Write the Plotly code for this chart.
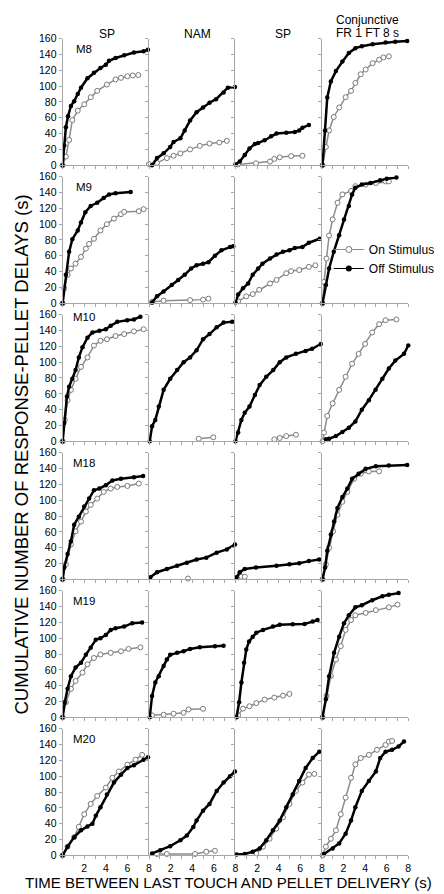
import plotly.graph_objects as go

W, H = 444, 894

SUBJECTS = ["M8", "M9", "M10", "M18", "M19", "M20"]
PHASES = ["SP", "NAM", "SP", "Conjunctive"]
PHASE_SUB = ["", "", "", "FR 1 FT 8 s"]
Y_TICKS = [0, 20, 40, 60, 80, 100, 120, 140, 160]
X_TICKS = [0, 1, 2, 3, 4, 5, 6, 7, 8]
X_TICKTEXT = ["", "", "2", "", "4", "", "6", "", "8"]

# ---- M8 ----
M8_SP1_ON_X = [0, 0.3, 0.6, 0.9, 1.4, 2.0, 2.6, 3.2, 4.1, 4.9, 5.4, 6.0, 6.5, 7.0]
M8_SP1_ON_Y = [0, 11, 32, 57, 69, 77, 86, 94, 102, 108.5, 110.5, 112.5, 113.5, 114]
M8_SP1_OFF_X = [0, 0.15, 0.3, 0.5, 0.77, 1.07, 1.4, 1.7, 2.3, 2.9, 3.5, 4.0, 4.3, 4.9, 5.7, 6.6, 7.5, 7.9]
M8_SP1_OFF_Y = [0, 25, 48, 62, 75, 81, 90, 98, 110, 117, 123, 127, 132, 135.5, 139, 142.5, 144, 146]
M8_NAM_ON_X = [0, 0.74, 1.65, 2.27, 2.9, 3.8, 4.7, 5.6, 6.5, 7.2]
M8_NAM_ON_Y = [1.5, 3, 9, 12, 15, 20, 24.5, 27.4, 28.7, 30.8]
M8_NAM_OFF_X = [0.28, 0.74, 1.35, 1.96, 2.27, 2.9, 3.3, 3.8, 4.4, 5.0, 5.6, 6.2, 6.9, 7.3, 7.95]
M8_NAM_OFF_Y = [0, 9, 15, 23, 29.5, 34, 44, 56.5, 67, 73, 79, 83.5, 92, 98, 99]
M8_SP2_ON_X = [0.25, 1.9, 3.2, 3.6, 4.1, 5.15, 6.2]
M8_SP2_ON_Y = [1, 2.5, 4.6, 8, 10, 11.6, 12]
M8_SP2_OFF_X = [0, 0.4, 0.86, 1.3, 1.8, 2.1, 2.7, 3.3, 3.8, 4.7, 5.5, 5.9, 6.2, 6.8]
M8_SP2_OFF_Y = [1, 4.6, 13, 21, 27, 28, 31.6, 36.6, 40, 41, 42, 44, 47.4, 51]
M8_CONJ_ON_X = [0.06, 0.37, 0.67, 1.1, 1.6, 2.2, 2.7, 3.1, 3.6, 4.05, 4.7, 5.3, 5.7, 6.2]
M8_CONJ_ON_Y = [0, 23, 44, 61, 73, 86, 94, 104, 115, 121, 129, 133.4, 136.3, 137.6]
M8_CONJ_OFF_X = [0.06, 0.3, 0.5, 0.83, 1.3, 1.9, 2.5, 3.1, 3.7, 4.7, 5.9, 6.8, 7.9]
M8_CONJ_OFF_Y = [0, 44, 85.6, 106, 119, 131, 142, 148, 150.5, 153, 155, 156, 157]

# ---- M9 ----
M9_SP1_ON_X = [0, 0.15, 0.46, 0.77, 1.2, 1.7, 2.15, 2.45, 2.9, 3.5, 4.1, 4.75, 5.4, 5.7, 7.05, 7.5]
M9_SP1_ON_Y = [0, 19, 36, 44, 50, 58.6, 69, 75, 81.5, 92, 100, 107, 112.6, 115.5, 116.4, 119]
M9_SP1_OFF_X = [0, 0.3, 0.6, 0.9, 1.4, 1.7, 2.1, 2.6, 3.2, 3.8, 4.3, 4.9, 6.3]
M9_SP1_OFF_Y = [0, 36, 65, 81, 92, 102, 115, 123, 127, 133, 137.6, 139, 140.5]
M9_NAM_ON_X = [0.28, 1.35, 3.8, 5.0, 5.5]
M9_NAM_ON_Y = [1.7, 3.3, 4, 4.6, 5.8]
M9_NAM_OFF_X = [0.28, 0.74, 1.35, 2.1, 2.7, 3.3, 3.9, 4.4, 5.0, 5.5, 6.1, 6.7, 7.5, 7.8]
M9_NAM_OFF_Y = [1, 9, 15, 23, 29.5, 36, 44, 48, 50, 52, 60, 67, 71, 72]
M9_SP2_ON_X = [0.25, 1.0, 1.6, 2.2, 3.2, 3.8, 4.7, 5.15, 5.9, 6.8, 7.4]
M9_SP2_ON_Y = [2.5, 8.7, 11.6, 17, 25, 29.5, 38, 40.7, 42, 46, 48]
M9_SP2_OFF_X = [0, 0.25, 0.7, 1.17, 1.6, 2.1, 2.5, 3.2, 3.8, 4.4, 5.0, 5.5, 6.2, 6.8, 7.8]
M9_SP2_OFF_Y = [1, 11, 19, 25, 36, 44, 50, 56.5, 61.5, 65, 67, 70, 71, 76.5, 81.5]
M9_CONJ_ON_X = [0.06, 0.2, 0.43, 0.67, 1.0, 1.45, 1.9, 2.7, 3.1, 4.05, 5.0, 5.9, 6.2]
M9_CONJ_ON_Y = [0, 27, 56.5, 85.6, 106, 127, 137.6, 142, 148, 150, 152, 154, 154]
M9_CONJ_OFF_X = [0.06, 0.37, 0.67, 1.1, 1.6, 2.05, 2.5, 2.8, 3.1, 3.7, 4.5, 5.4, 6.0, 6.9]
M9_CONJ_OFF_Y = [0, 23, 44, 65, 86, 106, 123, 137.6, 146, 150, 152, 155.4, 157.5, 159]

# ---- M10 ----
M10_SP1_ON_X = [0, 0.2, 0.46, 0.77, 1.2, 1.7, 2.3, 2.9, 3.5, 4.1, 4.9, 5.7, 6.6, 7.5]
M10_SP1_ON_Y = [0, 27, 52, 65, 79, 94, 106, 121, 127, 129, 133, 135.5, 139, 141.7]
M10_SP1_OFF_X = [0, 0.15, 0.4, 0.6, 0.9, 1.2, 1.5, 1.84, 2.3, 2.76, 3.4, 4.0, 4.45, 5.06, 5.98, 6.6, 7.2]
M10_SP1_OFF_Y = [0, 23, 56.5, 69, 79, 90, 106, 119, 131, 137.6, 139.6, 141.7, 146, 151, 153, 154, 157.5]
M10_NAM_ON_X = [4.6, 5.95]
M10_NAM_ON_Y = [3.3, 5]
M10_NAM_OFF_X = [0.06, 0.28, 0.58, 0.9, 1.35, 1.96, 2.6, 3.2, 3.8, 4.4, 5.0, 5.6, 6.26, 6.9, 7.7]
M10_NAM_OFF_Y = [0, 19, 27, 44, 65, 79, 90, 100, 106, 115, 129, 135.5, 144, 150, 151]
M10_SP2_ON_X = [3.6, 4.1, 4.7, 5.6]
M10_SP2_ON_Y = [2.5, 4.2, 6.6, 8.3]
M10_SP2_OFF_X = [0, 0.25, 0.55, 0.86, 1.3, 1.8, 2.24, 2.85, 3.5, 4.1, 4.7, 5.6, 6.5, 7.1, 7.9]
M10_SP2_OFF_Y = [0, 11, 27, 36, 44, 58.6, 71, 81.5, 90, 100, 106, 110.5, 114, 117, 123]
M10_CONJ_ON_X = [0.06, 0.2, 0.5, 1.0, 1.6, 2.2, 2.8, 3.4, 4.0, 4.66, 5.3, 5.9, 6.9]
M10_CONJ_ON_Y = [0, 11, 32, 48, 65, 81.5, 98, 110.5, 123, 137.6, 148, 153, 154]
M10_CONJ_OFF_X = [0.37, 0.67, 1.3, 1.9, 2.5, 3.1, 3.7, 4.35, 4.97, 5.6, 6.2, 6.8, 7.6, 8.0]
M10_CONJ_OFF_Y = [2.5, 3.3, 6.6, 11.6, 17, 25, 40, 52, 65, 79, 92, 102, 110.5, 121]

# ---- M18 ----
M18_SP1_ON_X = [0, 0.3, 0.77, 1.2, 1.7, 2.15, 2.6, 3.2, 3.8, 4.45, 5.06, 6.0, 7.05]
M18_SP1_ON_Y = [0, 19, 44, 60.7, 73, 85.6, 94, 102, 110.5, 114.7, 116.8, 118, 121]
M18_SP1_OFF_X = [0, 0.15, 0.46, 0.77, 1.07, 1.5, 2.0, 2.45, 2.9, 3.4, 4.0, 4.6, 5.4, 6.6, 7.45]
M18_SP1_OFF_Y = [0, 15, 32, 48, 69, 79, 92, 102, 112.6, 114.7, 119, 125, 127, 129, 130.5]
M18_NAM_ON_X = [3.6]
M18_NAM_ON_Y = [1]
M18_NAM_OFF_X = [0.12, 0.74, 1.65, 2.6, 3.5, 4.4, 5.3, 6.26, 7.2, 7.95]
M18_NAM_OFF_Y = [2.5, 9, 13, 17, 21, 25, 27.4, 33.7, 37.8, 44]
M18_SP2_ON_X = [0.25, 0.55, 0.86]
M18_SP2_ON_Y = [2.5, 3.3, 3.3]
M18_SP2_OFF_X = [0.1, 0.4, 0.86, 1.9, 3.8, 5.0, 5.9, 6.8, 7.75]
M18_SP2_OFF_Y = [2.5, 9, 13, 15, 17, 19, 20.4, 23, 25]
M18_CONJ_ON_X = [0.06, 0.37, 0.67, 1.04, 1.44, 1.9, 2.36, 2.98, 3.6, 4.35, 5.3]
M18_CONJ_ON_Y = [0, 19, 40, 60.7, 81.5, 98, 110.5, 127, 133.4, 136.3, 136.5]
M18_CONJ_OFF_X = [0.06, 0.3, 0.5, 0.83, 1.13, 1.44, 1.9, 2.36, 2.8, 3.4, 4.05, 5.0, 6.2, 7.9]
M18_CONJ_OFF_Y = [0, 15, 36, 56.5, 73, 90, 104, 114.7, 127, 133.4, 139.6, 143, 143.8, 144.6]

# ---- M19 ----
M19_SP1_ON_X = [0, 0.3, 0.77, 1.2, 1.84, 2.3, 2.9, 3.5, 4.45, 5.4, 6.1, 7.2]
M19_SP1_ON_Y = [0, 19, 36, 46, 56.5, 67, 75, 79.4, 81.5, 83.5, 86.5, 88.5]
M19_SP1_OFF_X = [0, 0.2, 0.46, 0.77, 1.2, 1.7, 2.15, 2.6, 3.07, 3.5, 4.0, 4.45, 4.9, 5.7, 6.44, 7.36]
M19_SP1_OFF_Y = [0, 19, 36, 52, 63, 69, 79, 88, 98, 100, 104, 110.5, 112.6, 114.7, 119, 120]
M19_NAM_ON_X = [0.28, 1.35, 2.27, 3.2, 3.65, 5.0]
M19_NAM_ON_Y = [2.5, 3.3, 4.6, 5.8, 10, 10.8]
M19_NAM_OFF_X = [0.06, 0.28, 0.58, 0.9, 1.35, 1.65, 1.96, 2.6, 3.2, 3.8, 4.7, 6.1, 6.9]
M19_NAM_OFF_Y = [0, 27, 44, 52, 65, 73, 79, 81.5, 83.5, 86.5, 88.5, 90, 90.6]
M19_SP2_ON_X = [0.25, 0.7, 1.3, 1.93, 2.7, 3.6, 4.4, 5.0]
M19_SP2_ON_Y = [2.5, 11, 14, 18, 22.4, 25, 27.4, 29.5]
M19_SP2_OFF_X = [0.1, 0.34, 0.55, 0.8, 1.0, 1.26, 1.6, 1.93, 2.55, 3.47, 4.1, 5.3, 6.4, 7.15, 7.6]
M19_SP2_OFF_Y = [0, 19, 44, 69, 85.6, 96, 102, 107, 110.5, 114.7, 117, 117.6, 118, 121, 123]
M19_CONJ_ON_X = [0.06, 0.43, 0.83, 1.3, 1.75, 2.2, 2.7, 3.1, 4.05, 5.0, 6.2, 7.0]
M19_CONJ_ON_Y = [0, 27, 52, 73, 90, 110.5, 123, 129, 132, 135.5, 139, 142.5]
M19_CONJ_OFF_X = [0.06, 0.37, 0.67, 1.13, 1.6, 2.05, 2.5, 3.1, 3.7, 4.66, 5.6, 6.2, 7.1]
M19_CONJ_OFF_Y = [0, 23, 52, 81.5, 102, 119, 129, 139, 141.7, 148, 153, 155, 157]

# ---- M20 ----
M20_SP1_ON_X = [0, 0.46, 1.07, 1.5, 2.0, 2.6, 3.2, 4.0, 4.6, 5.2, 6.0, 6.75, 7.36]
M20_SP1_ON_Y = [0, 11, 23, 36, 52, 65, 75, 85.6, 98, 106, 114.7, 121, 127]
M20_SP1_OFF_X = [0, 0.46, 1.07, 1.7, 2.3, 2.76, 3.07, 3.5, 4.1, 4.75, 5.4, 6.0, 6.6, 7.5, 7.9]
M20_SP1_OFF_Y = [0, 11, 23, 31.6, 36.6, 40, 50, 60.7, 77, 92, 102, 110.5, 114, 121, 124]
M20_NAM_ON_X = [0.74, 1.65, 4.26, 5.3, 6.1]
M20_NAM_ON_Y = [1.7, 1.7, 1.7, 4.6, 5.8]
M20_NAM_OFF_X = [0.28, 1.04, 1.96, 2.9, 3.5, 4.1, 4.4, 5.0, 5.6, 6.26, 6.9, 7.5, 7.95]
M20_NAM_OFF_Y = [2.5, 6.6, 11.6, 19, 25, 36, 44, 56.5, 65, 81.5, 92, 100, 106]
M20_SP2_ON_X = [1.93, 2.55, 3.16, 3.77, 4.4, 5.0, 5.6, 6.2, 6.8, 7.3]
M20_SP2_ON_Y = [2.5, 11, 21, 33.7, 48, 65, 81.5, 92, 102, 103]
M20_SP2_OFF_X = [0.1, 0.86, 1.6, 2.24, 2.85, 3.47, 4.1, 4.7, 5.3, 5.9, 6.5, 7.15, 7.76]
M20_SP2_OFF_Y = [1, 1.7, 4.6, 8.7, 19, 31.6, 44, 60.7, 77, 94, 110.5, 123, 131]
M20_CONJ_ON_X = [0.06, 0.37, 0.83, 1.3, 1.75, 2.2, 2.7, 3.1, 3.6, 4.35, 5.1, 5.9, 6.2, 6.5]
M20_CONJ_ON_Y = [0, 11, 21, 31.6, 52, 73, 98, 115, 123, 127, 133.4, 139.6, 143.8, 144.6]
M20_CONJ_OFF_X = [0.2, 1.0, 1.6, 2.2, 2.7, 3.1, 3.7, 4.35, 5.0, 5.4, 5.9, 6.5, 7.1, 7.6]
M20_CONJ_OFF_Y = [1.7, 8.7, 15, 27.4, 44, 60.7, 81.5, 94, 106, 123, 131, 133.4, 137.6, 143.8]

CURVES = [
    [(M8_SP1_ON_X, M8_SP1_ON_Y, M8_SP1_OFF_X, M8_SP1_OFF_Y),
     (M8_NAM_ON_X, M8_NAM_ON_Y, M8_NAM_OFF_X, M8_NAM_OFF_Y),
     (M8_SP2_ON_X, M8_SP2_ON_Y, M8_SP2_OFF_X, M8_SP2_OFF_Y),
     (M8_CONJ_ON_X, M8_CONJ_ON_Y, M8_CONJ_OFF_X, M8_CONJ_OFF_Y)],
    [(M9_SP1_ON_X, M9_SP1_ON_Y, M9_SP1_OFF_X, M9_SP1_OFF_Y),
     (M9_NAM_ON_X, M9_NAM_ON_Y, M9_NAM_OFF_X, M9_NAM_OFF_Y),
     (M9_SP2_ON_X, M9_SP2_ON_Y, M9_SP2_OFF_X, M9_SP2_OFF_Y),
     (M9_CONJ_ON_X, M9_CONJ_ON_Y, M9_CONJ_OFF_X, M9_CONJ_OFF_Y)],
    [(M10_SP1_ON_X, M10_SP1_ON_Y, M10_SP1_OFF_X, M10_SP1_OFF_Y),
     (M10_NAM_ON_X, M10_NAM_ON_Y, M10_NAM_OFF_X, M10_NAM_OFF_Y),
     (M10_SP2_ON_X, M10_SP2_ON_Y, M10_SP2_OFF_X, M10_SP2_OFF_Y),
     (M10_CONJ_ON_X, M10_CONJ_ON_Y, M10_CONJ_OFF_X, M10_CONJ_OFF_Y)],
    [(M18_SP1_ON_X, M18_SP1_ON_Y, M18_SP1_OFF_X, M18_SP1_OFF_Y),
     (M18_NAM_ON_X, M18_NAM_ON_Y, M18_NAM_OFF_X, M18_NAM_OFF_Y),
     (M18_SP2_ON_X, M18_SP2_ON_Y, M18_SP2_OFF_X, M18_SP2_OFF_Y),
     (M18_CONJ_ON_X, M18_CONJ_ON_Y, M18_CONJ_OFF_X, M18_CONJ_OFF_Y)],
    [(M19_SP1_ON_X, M19_SP1_ON_Y, M19_SP1_OFF_X, M19_SP1_OFF_Y),
     (M19_NAM_ON_X, M19_NAM_ON_Y, M19_NAM_OFF_X, M19_NAM_OFF_Y),
     (M19_SP2_ON_X, M19_SP2_ON_Y, M19_SP2_OFF_X, M19_SP2_OFF_Y),
     (M19_CONJ_ON_X, M19_CONJ_ON_Y, M19_CONJ_OFF_X, M19_CONJ_OFF_Y)],
    [(M20_SP1_ON_X, M20_SP1_ON_Y, M20_SP1_OFF_X, M20_SP1_OFF_Y),
     (M20_NAM_ON_X, M20_NAM_ON_Y, M20_NAM_OFF_X, M20_NAM_OFF_Y),
     (M20_SP2_ON_X, M20_SP2_ON_Y, M20_SP2_OFF_X, M20_SP2_OFF_Y),
     (M20_CONJ_ON_X, M20_CONJ_ON_Y, M20_CONJ_OFF_X, M20_CONJ_OFF_Y)],
]

FONT = "Liberation Sans, Arial, sans-serif"
AXIS_GRAY = "#a6a6a6"
ON_GRAY = "#8c8c8c"

# layout geometry (pixels)
COL_LEFT = 55.0
COL_W = 87.0
ROW_TOP = 25.0
ROW_H = 128.3
ROW_PITCH = 139.9


def px_x(p):
    return p / W


def px_y(p):
    return 1 - p / H


fig = go.Figure()
layout = dict(
    width=W, height=H, autosize=False,
    margin=dict(l=0, r=0, t=0, b=0),
    paper_bgcolor="white", plot_bgcolor="white",
    font=dict(family=FONT, color="black", size=10),
    showlegend=True,
    legend=dict(x=px_x(323), y=px_y(224), xanchor="left", yanchor="top",
                bgcolor="rgba(0,0,0,0)", font=dict(size=12, family=FONT),
                itemwidth=30, tracegroupgap=0),
)

annotations = []
for r in range(6):
    for c in range(4):
        k = r * 4 + c + 1
        xname = "xaxis" if k == 1 else f"xaxis{k}"
        yname = "yaxis" if k == 1 else f"yaxis{k}"
        xref = "x" if k == 1 else f"x{k}"
        yref = "y" if k == 1 else f"y{k}"
        x0 = COL_LEFT + COL_W * c
        x1 = x0 + COL_W
        top = ROW_TOP + ROW_PITCH * r
        bot = top + ROW_H
        layout[xname] = dict(
            domain=[px_x(x0), px_x(x1)], range=[0, 8], anchor=yref,
            showline=True, linecolor=AXIS_GRAY, linewidth=1,
            ticks="outside", ticklen=3, tickcolor=AXIS_GRAY, tickwidth=1,
            tickvals=X_TICKS, ticktext=X_TICKTEXT,
            showticklabels=(r == 5), showgrid=False, zeroline=False,
            tickfont=dict(size=10.5, family=FONT, color="black"),
            fixedrange=True,
        )
        layout[yname] = dict(
            domain=[px_y(bot), px_y(top)], range=[0, 160], anchor=xref,
            showline=True, linecolor=AXIS_GRAY, linewidth=1,
            ticks="outside", ticklen=3, tickcolor=AXIS_GRAY, tickwidth=1,
            tickvals=Y_TICKS, showticklabels=(c == 0),
            showgrid=False, zeroline=False,
            tickfont=dict(size=10.5, family=FONT, color="black"),
            fixedrange=True,
        )
        on_x, on_y, off_x, off_y = CURVES[r][c]
        fig.add_trace(go.Scatter(
            x=on_x, y=on_y, xaxis=xref, yaxis=yref, mode="lines+markers",
            line=dict(color=ON_GRAY, width=1.5),
            marker=dict(symbol="circle", size=5, color="white",
                        line=dict(color="#7a7a7a", width=1)),
            cliponaxis=False, showlegend=False, hoverinfo="skip"))
        fig.add_trace(go.Scatter(
            x=off_x, y=off_y, xaxis=xref, yaxis=yref, mode="lines+markers",
            line=dict(color="black", width=2.5),
            marker=dict(symbol="circle", size=4.5, color="black"),
            cliponaxis=False, showlegend=False, hoverinfo="skip"))

    # row label
    annotations.append(dict(
        text=SUBJECTS[r], xref="paper", yref="paper",
        x=px_x(77), y=px_y(35 + ROW_PITCH * r - (8 if r == 2 else 0)),
        xanchor="center", yanchor="middle", showarrow=False,
        font=dict(size=11.5, family=FONT, color="black")))

# legend entries
fig.add_trace(go.Scatter(
    x=[None], y=[None], mode="lines+markers", name="On Stimulus",
    line=dict(color=ON_GRAY, width=1),
    marker=dict(symbol="circle", size=6, color="white",
                line=dict(color="#7a7a7a", width=1))))
fig.add_trace(go.Scatter(
    x=[None], y=[None], mode="lines+markers", name="Off Stimulus",
    line=dict(color="black", width=1),
    marker=dict(symbol="circle", size=6, color="black")))

# column titles
title_x = [100, 191, 277, 361.5]
for c in range(4):
    if PHASE_SUB[c]:
        annotations.append(dict(text=PHASES[c], xref="paper", yref="paper",
                                x=px_x(title_x[c]), y=px_y(6.5), xanchor="center",
                                yanchor="middle", showarrow=False,
                                font=dict(size=12, family=FONT, color="black")))
        annotations.append(dict(text=PHASE_SUB[c], xref="paper", yref="paper",
                                x=px_x(title_x[c]), y=px_y(19), xanchor="center",
                                yanchor="middle", showarrow=False,
                                font=dict(size=12, family=FONT, color="black")))
    else:
        annotations.append(dict(text=PHASES[c], xref="paper", yref="paper",
                                x=px_x(title_x[c]), y=px_y(20), xanchor="center",
                                yanchor="middle", showarrow=False,
                                font=dict(size=12, family=FONT, color="black")))

# axis titles
annotations.append(dict(text="TIME BETWEEN LAST TOUCH AND PELLET DELIVERY (s)",
                        xref="paper", yref="paper", x=px_x(222), y=px_y(880),
                        xanchor="center", yanchor="middle", showarrow=False,
                        font=dict(size=15, family=FONT, color="black")))
annotations.append(dict(text="CUMULATIVE NUMBER OF RESPONSE-PELLET DELAYS (s)",
                        xref="paper", yref="paper", x=0, y=px_y(447),
                        xanchor="left", yanchor="middle", showarrow=False,
                        textangle=-90,
                        font=dict(size=18.5, family=FONT, color="black")))

layout["annotations"] = annotations
fig.update_layout(**layout)
fig.write_html("out.html")
